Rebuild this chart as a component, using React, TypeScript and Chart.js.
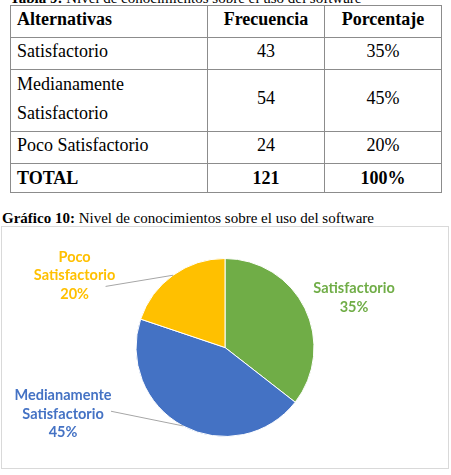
import React, { useEffect, useRef } from "react";
import { Chart, registerables } from "chart.js";

Chart.register(...registerables);

// ---- data ----
const tableCaptionBold = "Tabla 9:";
const tableCaptionText = " Nivel de conocimientos sobre el uso del software";
const chartCaptionBold = "Gráfico 10:";
const chartCaptionText = " Nivel de conocimientos sobre el uso del software";
const headers = ["Alternativas", "Frecuencia", "Porcentaje"];
const categories = ["Satisfactorio", "Medianamente Satisfactorio", "Poco Satisfactorio"];
const tableCategoryLines = [["Satisfactorio"], ["Medianamente", "Satisfactorio"], ["Poco Satisfactorio"]];
const frequencies = [43, 54, 24];
const percentages = [35, 45, 20];
const totalLabel = "TOTAL";
const totalFrequency = 121;
const totalPercentage = 100;
const pieLabelLines = [["Satisfactorio"], ["Medianamente", "Satisfactorio"], ["Poco", "Satisfactorio"]];
const sliceColors = ["#70AD47", "#4472C4", "#FFC000"];

const labelPlugin = {
  id: "pieLabels",
  afterDatasetsDraw(chart: any, _args: any, opts: any) {
    const ctx = chart.ctx;
    const meta = chart.getDatasetMeta(0);
    meta.data.forEach((arc: any, i: number) => {
      const p = arc.getProps(["x", "y", "startAngle", "endAngle", "outerRadius"], true);
      const mid = (p.startAngle + p.endAngle) / 2;
      const r = p.outerRadius;
      const ex = p.x + Math.cos(mid) * r;
      const ey = p.y + Math.sin(mid) * r;
      const pos = opts.positions[i];
      const cx = p.x + pos[0] * r;
      const cy = p.y + pos[1] * r;
      const lines = [...pieLabelLines[i], percentages[i] + "%"];
      const lh = opts.lineHeight;
      ctx.save();
      const lead = opts.leaders[i];
      if (lead) {
        ctx.strokeStyle = "#a6a6a6";
        ctx.lineWidth = 1;
        ctx.beginPath();
        ctx.moveTo(cx + lead[0], cy + lead[1]);
        ctx.lineTo(ex, ey);
        ctx.stroke();
      }
      ctx.fillStyle = sliceColors[i];
      ctx.font = opts.font;
      ctx.textAlign = "center";
      ctx.textBaseline = "middle";
      const startY = cy - ((lines.length - 1) * lh) / 2;
      lines.forEach((t, k) => ctx.fillText(t, cx, startY + k * lh));
      ctx.restore();
    });
  },
};

export default function App() {
  const canvasRef = useRef<HTMLCanvasElement>(null);

  useEffect(() => {
    document.body.style.margin = "0";
    const chart = new Chart(canvasRef.current!, {
      type: "pie",
      data: {
        labels: categories,
        datasets: [
          {
            data: frequencies,
            backgroundColor: sliceColors,
            borderColor: "#ffffff",
            borderWidth: 1,
            radius: 89,
          } as any,
        ],
      },
      options: {
        responsive: false,
        animation: false,
        events: [],
        layout: { padding: 0 },
        plugins: {
          legend: { display: false },
          tooltip: { enabled: false },
          title: { display: false },
          pieLabels: {
            positions: [
              [1.45, -0.56],
              [-1.82, 0.75],
              [-1.69, -0.81],
            ],
            leaders: [null, [48, -3], [31, 11]],
            font: "bold 14.5px Lato, 'Open Sans', sans-serif",
            lineHeight: 18.5,
          },
        } as any,
      },
      plugins: [labelPlugin],
    });
    return () => chart.destroy();
  }, []);

  const cellBase: React.CSSProperties = {
    border: "1px solid #8c8c8c",
    padding: "0 6px 6px 6px",
    verticalAlign: "middle",
    lineHeight: "22px",
    boxSizing: "border-box",
  };

  const rowHeights = [32, 62, 32];

  return (
    <div
      style={{
        position: "relative",
        width: 451,
        height: 475,
        overflow: "hidden",
        background: "#ffffff",
        fontFamily: "'Liberation Serif', 'Times New Roman', serif",
        color: "#000",
      }}
    >
      <div style={{ position: "absolute", left: 10, top: -11, fontSize: 15, lineHeight: "18px", whiteSpace: "nowrap" }}>
        <b>{tableCaptionBold}</b>
        {tableCaptionText}
      </div>
      <table
        style={{
          position: "absolute",
          left: 10,
          top: 5,
          width: 431,
          borderCollapse: "collapse",
          fontSize: 18,
          tableLayout: "fixed",
        }}
      >
        <colgroup>
          <col style={{ width: 197 }} />
          <col style={{ width: 117 }} />
          <col style={{ width: 117 }} />
        </colgroup>
        <tbody>
          <tr style={{ height: 32 }}>
            <td style={{ ...cellBase, fontWeight: "bold" }}>{headers[0]}</td>
            <td style={{ ...cellBase, fontWeight: "bold", textAlign: "center" }}>{headers[1]}</td>
            <td style={{ ...cellBase, fontWeight: "bold", textAlign: "center" }}>{headers[2]}</td>
          </tr>
          {categories.map((c, i) => (
            <tr key={c} style={{ height: rowHeights[i] }}>
              <td style={tableCategoryLines[i].length > 1 ? { ...cellBase, lineHeight: "29px", paddingBottom: 3 } : cellBase}>
                {tableCategoryLines[i].map((l, k) => (
                  <div key={k}>{l}</div>
                ))}
              </td>
              <td style={{ ...cellBase, textAlign: "center" }}>{frequencies[i]}</td>
              <td style={{ ...cellBase, textAlign: "center" }}>{percentages[i]}%</td>
            </tr>
          ))}
          <tr style={{ height: 29 }}>
            <td style={{ ...cellBase, padding: "0 6px", fontWeight: "bold" }}>{totalLabel}</td>
            <td style={{ ...cellBase, padding: "0 6px", fontWeight: "bold", textAlign: "center" }}>{totalFrequency}</td>
            <td style={{ ...cellBase, padding: "0 6px", fontWeight: "bold", textAlign: "center" }}>{totalPercentage}%</td>
          </tr>
        </tbody>
      </table>
      <div style={{ position: "absolute", left: 2, top: 209, fontSize: 15, lineHeight: "18px", whiteSpace: "nowrap" }}>
        <b>{chartCaptionBold}</b>
        {chartCaptionText}
      </div>
      <div
        style={{
          position: "absolute",
          left: 1,
          top: 226,
          width: 448,
          height: 243,
          border: "1px solid #d9d9d9",
          boxSizing: "border-box",
        }}
      >
        <canvas ref={canvasRef} width={446} height={241} style={{ display: "block" }} />
      </div>
    </div>
  );
}
